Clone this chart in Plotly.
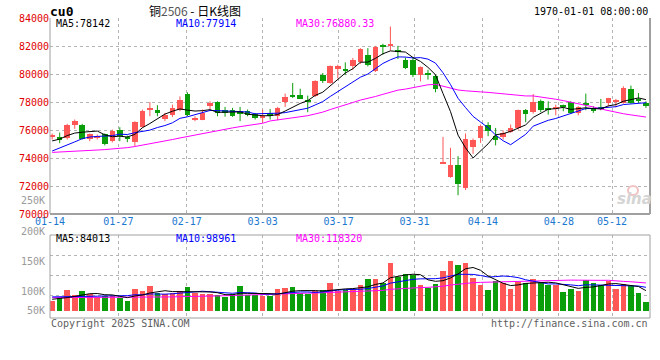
import plotly.graph_objects as go

W, H = 660, 360

# ---------------- data ----------------
dates = ["01-14","01-15","01-16","01-17","01-20","01-21","01-22","01-23","01-24","01-27",
         "02-05","02-06","02-07","02-10","02-11","02-12","02-13","02-14","02-17","02-18",
         "02-19","02-20","02-21","02-24","02-25","02-26","02-27","02-28","03-03","03-04",
         "03-05","03-06","03-07","03-10","03-11","03-12","03-13","03-14","03-17","03-18",
         "03-19","03-20","03-21","03-24","03-25","03-26","03-27","03-28","03-31","04-01",
         "04-02","04-03","04-07","04-08","04-09","04-10","04-11","04-14","04-15","04-16",
         "04-17","04-18","04-21","04-22","04-23","04-24","04-25","04-28","04-29","04-30",
         "05-06","05-07","05-08","05-09","05-12","05-13","05-14","05-15","05-16","05-19"]

opens = [75540,75535,75420,76340,76390,75370,75400,75680,75200,76030,
         75460,75130,76250,77430,77460,76770,77100,77460,78570,76750,
         76750,77700,78000,77400,77460,77340,77390,77150,76840,77220,
         76980,77980,78530,78530,78170,78410,79950,79360,80350,80310,
         80540,80830,81370,80190,82080,82010,81730,81020,81020,79900,
         80000,79880,73640,72640,73470,71830,74780,75440,76390,75560,
         75490,75840,76150,77460,77290,78050,77520,77530,77810,78000,
         77220,77860,77580,77580,77930,78050,77930,78930,78220,77930]
highs = [75750,75820,76440,76750,76440,75750,75680,75750,76030,76200,
         75600,76630,77460,78000,77770,77220,77815,78400,78690,76980,
         77460,78050,78050,77650,77580,77650,77460,77220,77460,77500,
         77650,78600,79360,78950,78460,79550,80070,80610,80660,80830,
         81140,81850,81850,82010,82160,83390,82010,81180,81180,80540,
         80300,79950,75510,74730,74130,75750,75390,76390,76560,76150,
         75960,76390,77460,77500,78570,78170,78050,77810,77810,78050,
         77700,78600,77700,78220,78290,78220,79120,79170,78640,78050]
lows = [75320,75060,75320,76080,75320,75200,75320,74900,75110,75200,
        75130,74850,76150,76980,76980,76630,76935,77340,76980,76630,
        76700,77460,76980,76950,76940,76630,76980,76750,76510,76750,
        76700,77650,78290,78240,77270,78360,79360,79310,79690,79950,
        80300,80710,80540,80140,81370,81680,81070,80350,79780,79470,
        79600,78690,73600,72590,71340,71710,74300,75080,75560,74900,
        75320,75800,76030,76560,77170,77270,77100,77050,77340,77170,
        77050,77410,77220,77410,77690,77620,77880,77880,77930,77580]
closes = [75600,75275,76340,76630,75370,75680,75600,74990,75960,75560,
          75380,76560,77340,77480,77220,77080,77580,78170,77050,76890,
          77220,77930,77220,77190,76980,77150,77100,76840,77030,76980,
          77580,78340,78340,78240,77980,79470,79475,80540,80590,80260,
          81020,81780,80610,81900,81900,82060,81560,80420,79950,80500,
          79950,78930,73700,73470,72120,75390,75320,76320,75920,75320,
          75800,76150,77410,77150,77980,77410,77470,77620,77620,77220,
          77650,77810,77340,77530,78290,78100,79000,77930,78130,77700]
volumes_k = [40.6,51.8,86.8,65.8,82.6,70.0,56.0,61.6,61.6,54.6,
             40.6,91.0,82.6,103.6,72.8,70.0,72.8,82.6,99.4,72.8,
             70.0,70.0,65.8,58.8,70.0,103.6,65.8,65.8,61.6,61.6,
             91.0,96.6,99.4,72.8,70.0,84.0,86.8,117.6,82.6,86.8,
             91.0,107.8,133.0,133.0,117.6,201.7,142.9,154.0,149.9,107.8,
             93.8,112.0,166.7,208.7,191.9,201.7,138.7,107.8,86.8,124.7,
             117.6,91.0,121.9,117.6,133.0,117.6,107.8,107.8,79.8,91.0,
             82.6,128.9,117.6,107.8,124.7,91.0,112.0,105.0,75.6,37.8]

# moving-average values before a full window is available
ma5_head = [75220,75350,75600,75780]
ma10_head = [74500,74700,74930,75150,75380,75500,75540,75580,75600]
ma30_head = [74400,74420,74450,74480,74510,74540,74570,74600,74630,74670,
             74740,74820,74910,75000,75100,75210,75320,75430,75540,75650,
             75760,75870,75970,76060,76150,76240,76320,76400,76480]
vma5_head = [48,50,55,60]
vma10_head = [58,58,59,59,60,60,61,62,62]
vma30_head = [55,55,55,55,55,56,56,56,56,56,56,57,57,57,58,58,58,59,59,60,
              60,61,62,63,64,65,66,67,68]

tick_dates = ["01-14","01-27","02-17","03-03","03-17","03-31","04-14","04-28","05-12"]
price_ticks = [70000,72000,74000,76000,78000,80000,82000,84000]
vol_tick_labels = ["250K","200K","150K","100K","50K"]
ma_labels = ["MA5:78142","MA10:77914","MA30:76880.33"]
vma_labels = ["MA5:84013","MA10:98961","MA30:118320"]

# ---------------- helpers ----------------
def px_x(p): return p / W
def px_y(p): return 1 - p / H

def moving_avg(vals, n, head):
    out = list(head)
    for i in range(n - 1, len(vals)):
        out.append(sum(vals[i - n + 1:i + 1]) / n)
    return out

RED = "#FF5656"
GREEN = "#0A9E0A"
MONO = "DejaVu Sans Mono"
N = len(closes)
idx = list(range(N))
up = [c >= o for o, c in zip(opens, closes)]
colors = [RED if u else GREEN for u in up]

X0, X1 = -0.29, 79.54          # main x range
fig = go.Figure()

# wicks
for flag, col in ((True, RED), (False, GREEN)):
    xs, ys = [], []
    for i in idx:
        if up[i] == flag:
            xs += [i, i, None]
            ys += [lows[i], highs[i], None]
    fig.add_trace(go.Scatter(x=xs, y=ys, mode="lines", line=dict(color=col, width=1),
                             hoverinfo="skip", xaxis="x", yaxis="y"))

# bodies
min_body = 75
bases = [min(o, c) for o, c in zip(opens, closes)]
heights = [max(abs(c - o), min_body) for o, c in zip(opens, closes)]
fig.add_trace(go.Bar(x=idx, y=heights, base=bases, width=0.74,
                     marker=dict(color=colors, line=dict(width=0)),
                     xaxis="x", yaxis="y"))

# price MAs
ma5 = moving_avg(closes, 5, ma5_head)
ma10 = moving_avg(closes, 10, ma10_head)
ma30 = moving_avg(closes, 30, ma30_head)
for series, col in ((ma30, "#FF00FF"), (ma10, "#0000FF"), (ma5, "#000000")):
    fig.add_trace(go.Scatter(x=idx, y=series, mode="lines", line=dict(color=col, width=1),
                             xaxis="x", yaxis="y"))

# volume
vols = [v * 1000 for v in volumes_k]
fig.add_trace(go.Bar(x=idx, y=vols, width=0.74,
                     marker=dict(color=colors, line=dict(width=0)),
                     xaxis="x2", yaxis="y2"))
vma5 = [v * 1000 for v in moving_avg(volumes_k, 5, vma5_head)]
vma10 = [v * 1000 for v in moving_avg(volumes_k, 10, vma10_head)]
vma30 = [v * 1000 for v in moving_avg(volumes_k, 30, vma30_head)]
for series, col in ((vma30, "#FF00FF"), (vma10, "#0000FF"), (vma5, "#000000")):
    fig.add_trace(go.Scatter(x=idx, y=series, mode="lines", line=dict(color=col, width=1),
                             xaxis="x2", yaxis="y2"))

# ---------------- axes ----------------
grid_step = 600 / 79 / 7.516    # date grid spacing (in candle units)
tick_pos = [X0 + dates.index(d) * grid_step for d in tick_dates]

main_top, main_bot = 18, 214
vol_top, vol_bot = 235, 318
vol_zero_px, vol_k_px = 310.7, 0.238 / 1000
vol_range = [-(vol_bot - vol_zero_px) / vol_k_px, (vol_zero_px - vol_top) / vol_k_px]
vol_grid = [(vol_zero_px - p) / vol_k_px for p in (255, 275, 295)]

GRID = dict(showgrid=True, gridcolor="#B4B4B4", griddash="dot", gridwidth=1,
            zeroline=False, showline=False, ticks="", fixedrange=True, automargin=False)

fig.update_layout(
    width=W, height=H, margin=dict(l=0, r=0, t=0, b=0, pad=0, autoexpand=False),
    paper_bgcolor="white", plot_bgcolor="white", showlegend=False,
    bargap=0, barmode="overlay",
    xaxis=dict(domain=[px_x(50), px_x(650)], range=[X0, X1], anchor="y",
               tickvals=tick_pos, ticktext=tick_dates,
               tickfont=dict(family=MONO, size=10, color="#1A78D0"), **GRID),
    yaxis=dict(domain=[px_y(main_bot), px_y(main_top)], range=[70000, 84000], anchor="x",
               tickvals=price_ticks, ticktext=[str(v) for v in price_ticks],
               tickfont=dict(family=MONO, size=10, color="#E00000"), **GRID),
    xaxis2=dict(domain=[px_x(50), px_x(650)], range=[X0, X1], anchor="y2",
                tickvals=tick_pos, showticklabels=False, **GRID),
    yaxis2=dict(domain=[px_y(vol_bot), px_y(vol_top)], range=vol_range, anchor="x2",
                tickvals=vol_grid, showticklabels=False, **GRID),
)

# ---------------- borders & decorations ----------------
shapes = [
    dict(type="line", x0=px_x(50), x1=px_x(50), y0=px_y(main_top), y1=px_y(main_bot),
         xref="paper", yref="paper", line=dict(color="#A0A0A0", width=1)),
    dict(type="line", x0=px_x(650), x1=px_x(650), y0=px_y(main_top), y1=px_y(main_bot),
         xref="paper", yref="paper", line=dict(color="#A0A0A0", width=2)),
    dict(type="line", x0=px_x(50), x1=px_x(650), y0=px_y(main_bot), y1=px_y(main_bot),
         xref="paper", yref="paper", line=dict(color="#A0A0A0", width=2)),
    dict(type="rect", x0=px_x(50), x1=px_x(650), y0=px_y(vol_bot), y1=px_y(vol_top),
         xref="paper", yref="paper", line=dict(color="#A0A0A0", width=1)),
    dict(type="circle", x0=px_x(628), x1=px_x(638), y0=px_y(195), y1=px_y(186),
         xref="paper", yref="paper", line=dict(color="#F2C2C2", width=2)),
]
fig.update_layout(shapes=shapes)

def ann(text, x, y, color="#000", size=10, anchor="left", family=MONO, **kw):
    return dict(text=text, x=px_x(x), y=px_y(y), xref="paper", yref="paper",
                xanchor=anchor, yanchor="middle", showarrow=False,
                font=dict(family=family, size=size, color=color, **kw))

anns = [
    ann("<b>cu0</b>", 48, 11.5, size=13),
    ann("铜<span style='color:#555'>2506</span> - 日K线图", 195, 10, size=12,
        anchor="center", family="Noto Sans CJK SC"),
    ann("1970-01-01 08:00:00", 650, 12, anchor="right"),
    ann(ma_labels[0], 54, 24, color="#000000"),
    ann(ma_labels[1], 174, 24, color="#0000FF"),
    ann(ma_labels[2], 294, 24, color="#FF00FF"),
    ann(vma_labels[0], 54, 238.5, color="#000000"),
    ann(vma_labels[1], 174, 238.5, color="#0000FF"),
    ann(vma_labels[2], 294, 238.5, color="#FF00FF"),
    ann("Copyright 2025 SINA.COM", 49, 323.5, color="#606060"),
    ann("http://finance.sina.com.cn", 650, 323.5, color="#606060", anchor="right"),
    ann("<b><i>sina</i></b>", 634, 199, color="#D4D4D4", size=15, anchor="center",
        family="DejaVu Sans"),
]
vol_label_px = [200.5, 231, 261, 291, 310]
for t, p in zip(vol_tick_labels, vol_label_px):
    anns.append(ann(t, 46.5, p, color="#9A9A9A", anchor="right"))
fig.update_layout(annotations=anns)

fig.write_html("out.html", config={"displayModeBar": False},
               post_script="document.body.style.margin='0';document.body.style.padding='0';")
